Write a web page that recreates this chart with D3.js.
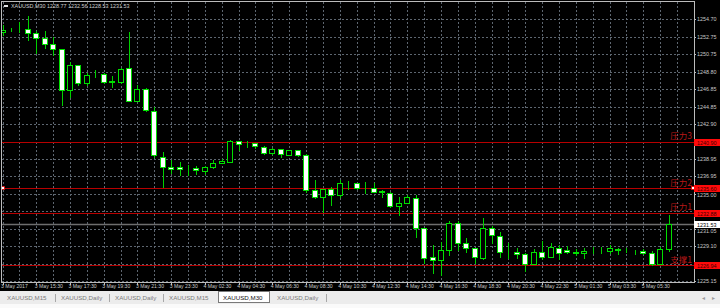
<!DOCTYPE html>
<html>
<head>
<meta charset="utf-8">
<script src="https://cdn.jsdelivr.net/npm/d3@7"></script>
<style>
body { margin: 0; background: #000; }
svg { display: block; font-family: "Liberation Sans", Arial, sans-serif; }
</style>
</head>
<body>
<svg id="chart" width="720" height="308"></svg>
<script>
// XAUUSD M30 bars, 3 May 13:30 -> 5 May 07:00
var opens = [1253.27, 1253.57, 1253.49, 1253.57, 1253.12, 1252.55, 1251.88, 1251.31, 1246.72, 1249.51,
             1247.47, 1248.49, 1248.52, 1247.62, 1247.59, 1249.17, 1245.51, 1246.80, 1244.38, 1239.18,
             1238.05, 1238.05, 1237.87, 1237.91, 1237.60, 1237.99, 1238.44, 1238.62, 1240.92, 1240.70,
             1240.70, 1240.31, 1239.64, 1240.02, 1239.41, 1239.91, 1239.38, 1235.42, 1234.60, 1235.50,
             1234.86, 1236.18, 1236.18, 1235.61, 1235.68, 1235.31, 1235.12, 1233.62, 1233.99, 1234.55,
             1231.10, 1227.82, 1227.52, 1228.65, 1231.73, 1229.40, 1228.84, 1227.71, 1231.17, 1230.26,
             1228.39, 1228.39, 1228.20, 1227.07, 1228.46, 1227.89, 1228.91, 1228.65, 1228.46, 1228.27,
             1228.57, 1228.56, 1228.57, 1228.80, 1228.65, 1228.57, 1228.54, 1228.27, 1227.07, 1228.77];
var highs = [1254.06, 1253.72, 1254.43, 1255.07, 1253.41, 1253.38, 1252.73, 1251.35, 1249.91, 1249.54,
             1248.67, 1248.97, 1248.64, 1248.30, 1249.20, 1253.23, 1247.28, 1246.91, 1244.83, 1239.75,
             1238.81, 1238.62, 1238.25, 1238.17, 1238.13, 1238.81, 1238.89, 1241.07, 1240.96, 1241.00,
             1240.74, 1240.35, 1240.17, 1240.06, 1239.95, 1239.94, 1239.49, 1236.55, 1235.55, 1235.76,
             1236.55, 1236.47, 1236.22, 1236.36, 1236.25, 1235.42, 1235.20, 1234.67, 1234.86, 1234.86,
             1231.14, 1229.21, 1229.58, 1231.92, 1231.92, 1229.97, 1228.88, 1232.23, 1231.36, 1230.65,
             1229.47, 1228.91, 1228.31, 1228.76, 1229.70, 1229.40, 1229.21, 1229.13, 1228.76, 1228.84,
             1229.02, 1229.02, 1229.21, 1228.88, 1228.88, 1228.65, 1228.76, 1228.54, 1229.02, 1232.56];
var lows = [1252.93, 1253.38, 1253.30, 1252.36, 1250.86, 1251.49, 1250.67, 1245.02, 1245.96, 1247.28,
            1247.28, 1248.15, 1247.47, 1247.02, 1247.47, 1245.42, 1245.42, 1244.40, 1239.18, 1235.73,
            1237.31, 1237.12, 1237.12, 1237.23, 1237.23, 1237.87, 1238.44, 1238.58, 1239.94, 1240.31,
            1240.13, 1239.49, 1239.49, 1239.18, 1239.37, 1239.26, 1235.23, 1234.52, 1232.97, 1233.73,
            1234.67, 1235.57, 1235.53, 1235.05, 1235.20, 1234.67, 1233.47, 1232.60, 1233.95, 1230.15,
            1227.14, 1226.08, 1225.82, 1228.08, 1228.65, 1228.46, 1227.14, 1227.65, 1229.40, 1227.89,
            1227.71, 1227.71, 1226.27, 1227.03, 1227.60, 1227.85, 1227.60, 1228.27, 1228.08, 1227.71,
            1228.27, 1228.27, 1228.27, 1228.20, 1228.42, 1228.16, 1228.20, 1227.01, 1227.03, 1228.53];
var closes = [1253.49, 1253.57, 1253.49, 1253.19, 1252.55, 1251.91, 1251.31, 1246.72, 1249.51, 1247.47,
              1248.41, 1248.56, 1247.62, 1247.68, 1249.05, 1245.47, 1246.80, 1244.46, 1239.38, 1238.05,
              1237.83, 1237.79, 1237.87, 1237.65, 1237.99, 1238.44, 1238.70, 1240.92, 1240.58, 1240.70,
              1240.39, 1239.57, 1240.02, 1239.45, 1239.91, 1239.34, 1235.42, 1234.60, 1235.50, 1234.86,
              1236.18, 1236.18, 1235.61, 1235.61, 1235.23, 1235.16, 1233.62, 1233.99, 1234.60, 1231.10,
              1227.78, 1227.52, 1228.65, 1231.73, 1229.40, 1228.91, 1227.82, 1231.10, 1230.34, 1228.39,
              1228.39, 1228.23, 1227.07, 1228.46, 1227.89, 1228.95, 1228.27, 1228.46, 1228.27, 1228.54,
              1228.57, 1228.58, 1228.84, 1228.65, 1228.60, 1228.57, 1228.27, 1227.07, 1228.77, 1231.53];

var timeLabels = ["3 May 2017", "3 May 15:30", "3 May 17:30", "3 May 19:30", "3 May 21:30",
                  "3 May 23:30", "4 May 02:30", "4 May 04:30", "4 May 06:30", "4 May 08:30",
                  "4 May 10:30", "4 May 12:30", "4 May 14:30", "4 May 16:30", "4 May 18:30",
                  "4 May 20:30", "4 May 22:30", "5 May 01:30", "5 May 03:30", "5 May 05:30"];
var priceTicks = [1254.70, 1252.75, 1250.75, 1248.80, 1246.85, 1244.85, 1242.90, 1240.90,
                  1238.95, 1236.95, 1235.00, 1233.00, 1231.05, 1229.10, 1227.10, 1225.15];
var levelNames = ["压力3", "压力2", "压力1", "支撑1"];
var levelPrices = [1240.90, 1235.60, 1232.88, 1226.94];
var bidPrice = 1231.53;
var tabNames = ["XAUUSD,M15", "XAUUSD,Daily", "XAUUSD,Daily", "XAUUSD,M15", "XAUUSD,M30", "XAUUSD,Daily"];
var activeTab = 4;
var headerText = "XAUUSD,M30 1228.77 1232.56 1228.53 1231.53";

var W = 720, H = 308;
var plot = {left: 2, right: 694, top: 2, bottom: 282};
var barStep = 8.43;
var bodyW = 6;

var svg = d3.select("#chart");

var x = d3.scaleLinear()
            .domain([0, 1])
            .range([2.6, 2.6 + barStep]);
var y = d3.scaleLinear()
            .domain([1225.15, 1254.70])
            .range([281.0, 19.3]);

function px(v) { return Math.round(v) + 0.5; }

svg.append("rect")
    .attr("width", W).attr("height", H)
    .attr("fill", "#000");

svg.append("clipPath").attr("id", "plotclip")
    .append("rect")
    .attr("x", plot.left).attr("y", plot.top)
    .attr("width", plot.right - plot.left).attr("height", plot.bottom - plot.top);

var grid = svg.append("g")
                .attr("clip-path", "url(#plotclip)")
                .attr("stroke", "#5d6670")
                .attr("stroke-dasharray", "2,2")
                .attr("shape-rendering", "crispEdges");

// vertical grid every 2 bars
grid.selectAll("line.v")
    .data(d3.range(0, 84, 2))
    .join("line")
    .attr("class", "v")
    .attr("x1", d => px(x(d))).attr("x2", d => px(x(d)))
    .attr("y1", plot.top).attr("y2", plot.bottom);

grid.selectAll("line.h")
    .data(priceTicks)
    .join("line")
    .attr("class", "h")
    .attr("x1", plot.left).attr("x2", plot.right)
    .attr("y1", d => px(y(d))).attr("y2", d => px(y(d)));

// horizontal levels
var levels = svg.append("g").attr("clip-path", "url(#plotclip)");

levels.append("line")
    .attr("x1", plot.left).attr("x2", plot.right)
    .attr("y1", px(y(bidPrice))).attr("y2", px(y(bidPrice)))
    .attr("stroke", "#6e6e6e")
    .attr("stroke-width", 1.5);

levels.selectAll("line.lvl")
    .data(levelPrices)
    .join("line")
    .attr("class", "lvl")
    .attr("x1", plot.left).attr("x2", plot.right)
    .attr("y1", d => px(y(d))).attr("y2", d => px(y(d)))
    .attr("stroke", "#b80000")
    .attr("shape-rendering", "crispEdges");

// candles
var bars = d3.range(opens.length).map(function(i) {
    return {i: i, o: opens[i], h: highs[i], l: lows[i], c: closes[i]};
});

var candles = svg.append("g")
                    .attr("clip-path", "url(#plotclip)")
                    .selectAll("g")
                    .data(bars)
                    .join("g")
                    .attr("shape-rendering", "crispEdges");

candles.append("line")
    .attr("x1", d => px(x(d.i))).attr("x2", d => px(x(d.i)))
    .attr("y1", d => Math.round(y(d.h))).attr("y2", d => Math.round(y(d.l)) + 1)
    .attr("stroke", "#00d000");

candles.append("rect")
    .attr("x", d => px(x(d.i)) - bodyW / 2)
    .attr("y", d => px(y(Math.max(d.o, d.c))))
    .attr("width", bodyW - 1)
    .attr("height", d => Math.max(0, Math.round(y(Math.min(d.o, d.c))) - Math.round(y(Math.max(d.o, d.c)))))
    .attr("fill", d => d.c < d.o ? "#ffffff" : "#000")
    .attr("stroke", "#00e000");

// level texts
svg.append("g")
    .selectAll("text")
    .data(levelPrices)
    .join("text")
    .attr("x", 692)
    .attr("y", d => y(d) - 2.5)
    .attr("text-anchor", "end")
    .attr("font-family", "'Noto Sans CJK SC', sans-serif")
    .attr("font-size", 8.5)
    .attr("fill", "#b81818")
    .text((d, i) => levelNames[i]);

// selected line markers
svg.append("rect")
    .attr("x", 1.5).attr("y", px(y(levelPrices[1])) - 2)
    .attr("width", 3).attr("height", 3)
    .attr("fill", "#fff").attr("stroke", "#e00000").attr("stroke-width", 0.8);
svg.append("rect")
    .attr("x", 691.5).attr("y", px(y(levelPrices[1])) - 2)
    .attr("width", 3).attr("height", 3)
    .attr("fill", "#fff").attr("stroke", "#e00000").attr("stroke-width", 0.8);

// frame
svg.append("rect")
    .attr("x", plot.left - 0.5).attr("y", plot.top - 0.5)
    .attr("width", plot.right - plot.left + 1).attr("height", plot.bottom - plot.top + 1)
    .attr("fill", "none")
    .attr("stroke", "#bcbcbc")
    .attr("shape-rendering", "crispEdges");

// header
svg.append("rect")
    .attr("x", 4).attr("y", 5).attr("width", 4).attr("height", 2)
    .attr("fill", "#e0e0e0");
svg.append("text")
    .attr("x", 11).attr("y", 8.2)
    .attr("font-size", 5.4)
    .attr("fill", "#d0d0d0")
    .text(headerText);

// price axis; labels hidden under a level box are nudged below it
var boxPrices = levelPrices.concat([bidPrice]);
function tickLabelY(d) {
    var yy = y(d) + 2;
    boxPrices.forEach(function(b) {
        var dy = y(d) - y(b);
        if (dy > 1.5 && dy < 6) yy = y(b) + 9;
    });
    return yy;
}
var hiddenTicks = priceTicks.filter(function(d) {
    return boxPrices.some(b => Math.abs(y(d) - y(b)) <= 1.5 || (y(b) - y(d) > 0 && y(b) - y(d) < 6));
});
var priceAxis = svg.append("g");
priceAxis.selectAll("line")
    .data(priceTicks)
    .join("line")
    .attr("x1", plot.right).attr("x2", plot.right + 2)
    .attr("y1", d => px(y(d))).attr("y2", d => px(y(d)))
    .attr("stroke", "#bcbcbc");
priceAxis.selectAll("text")
    .data(priceTicks.filter(d => hiddenTicks.indexOf(d) < 0))
    .join("text")
    .attr("x", 697)
    .attr("y", tickLabelY)
    .attr("font-size", 5.4)
    .attr("fill", "#c8c8c8")
    .text(d => d.toFixed(2));

// level price boxes
var boxes = svg.append("g")
                .selectAll("g")
                .data(boxPrices)
                .join("g")
                .attr("transform", d => "translate(694," + (px(y(d)) - 3.5) + ")");
boxes.append("rect")
    .attr("width", 26).attr("height", 7)
    .attr("fill", d => d === bidPrice ? "#ffffff" : "#ff0a0a");
boxes.append("text")
    .attr("x", 3).attr("y", 5.5)
    .attr("font-size", 5.4)
    .attr("fill", d => d === bidPrice ? "#000" : "#400000")
    .text(d => d.toFixed(2));

// time axis
var timeAxis = svg.append("g");
timeAxis.selectAll("line")
    .data(timeLabels)
    .join("line")
    .attr("x1", (d, i) => px(x(i * 4))).attr("x2", (d, i) => px(x(i * 4)))
    .attr("y1", plot.bottom).attr("y2", plot.bottom + 3)
    .attr("stroke", "#bcbcbc");
timeAxis.selectAll("text")
    .data(timeLabels)
    .join("text")
    .attr("x", (d, i) => x(i * 4) - 1.5)
    .attr("y", 288)
    .attr("font-size", 5.1)
    .attr("fill", "#c8c8c8")
    .text(d => d);

// tab strip
var tabs = svg.append("g");
tabs.append("rect")
    .attr("x", 0).attr("y", 291).attr("width", W).attr("height", 17)
    .attr("fill", "#ececec");
tabs.append("rect")
    .attr("x", 0).attr("y", 304).attr("width", W).attr("height", 4)
    .attr("fill", "#fafafa");
tabs.append("rect")
    .attr("x", 218.5).attr("y", 291.5).attr("width", 51).attr("height", 11)
    .attr("fill", "#ffffff")
    .attr("stroke", "#7a7a7a");
tabs.selectAll("text.tab")
    .data(tabNames)
    .join("text")
    .attr("class", "tab")
    .attr("x", (d, i) => 7 + i * 54)
    .attr("y", 299.5)
    .attr("font-size", 6.2)
    .attr("fill", (d, i) => i === activeTab ? "#111" : "#7a7a7a")
    .text(d => d);
tabs.selectAll("line.sep")
    .data([55, 109, 163, 326])
    .join("line")
    .attr("class", "sep")
    .attr("x1", d => d + 0.5).attr("x2", d => d + 0.5)
    .attr("y1", 294).attr("y2", 302)
    .attr("stroke", "#a8a8a8");
tabs.selectAll("text.arrow")
    .data(["◂", "▸"])
    .join("text")
    .attr("class", "arrow")
    .attr("x", (d, i) => 702 + i * 10)
    .attr("y", 300)
    .attr("font-size", 6)
    .attr("fill", "#9a9a9a")
    .text(d => d);
</script>
</body>
</html>
